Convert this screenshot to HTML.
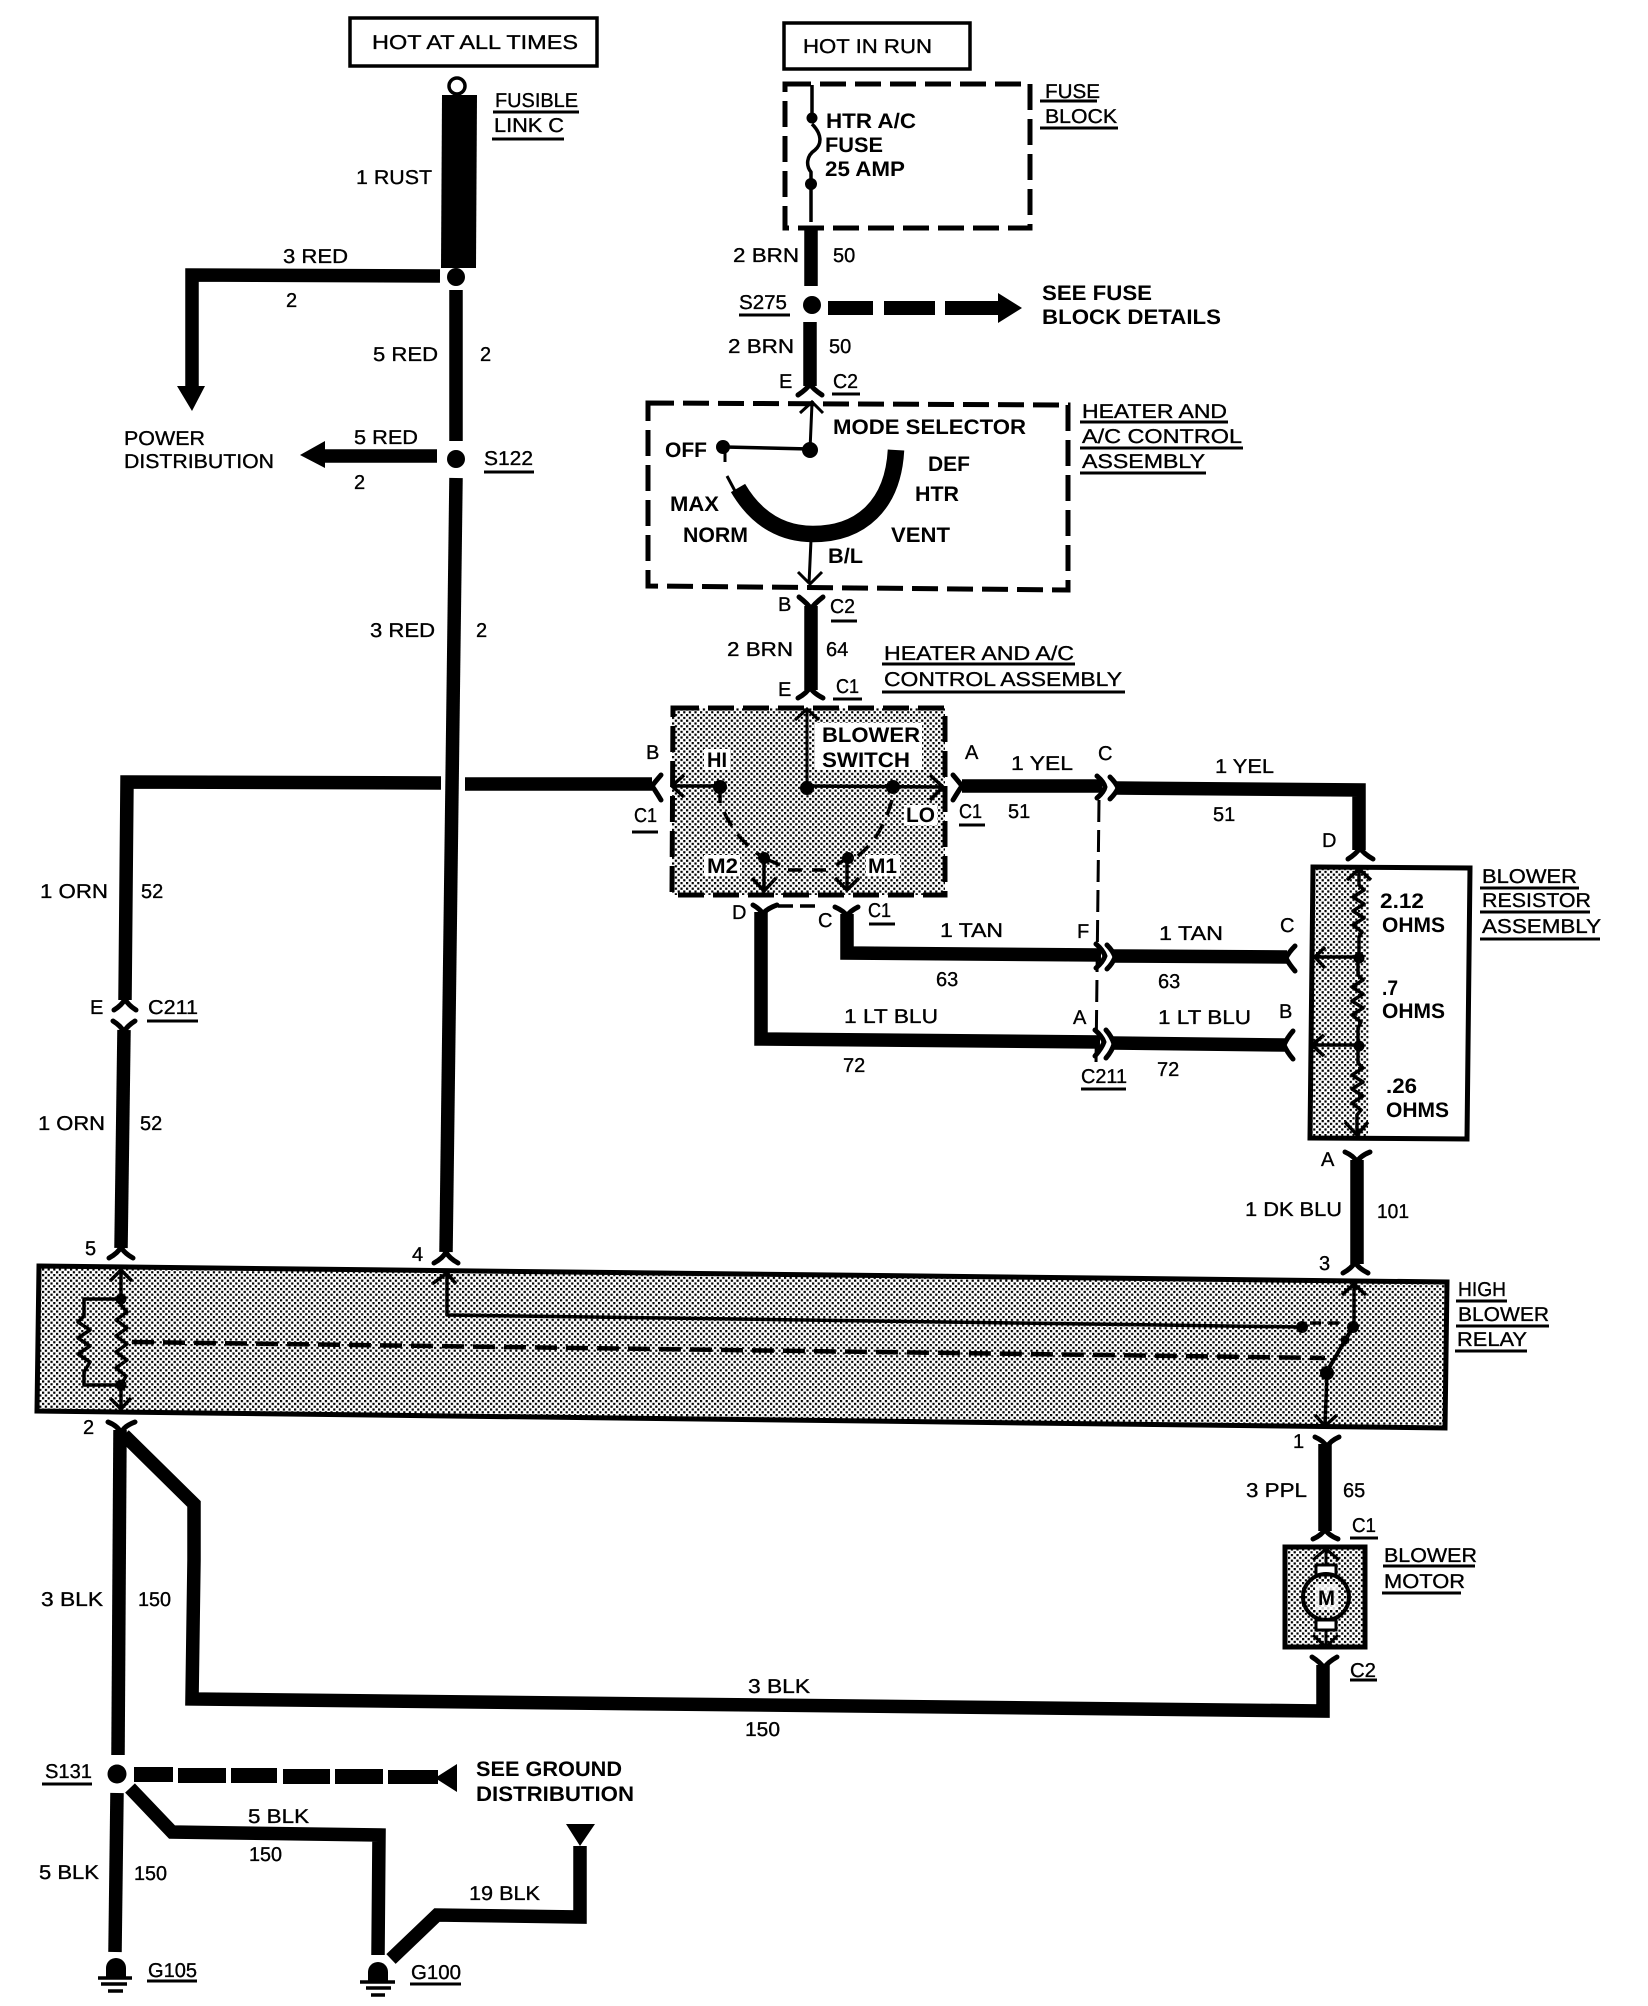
<!DOCTYPE html>
<html lang="en">
<head>
<meta charset="utf-8">
<title>Blower wiring diagram</title>
<style>
html,body{margin:0;padding:0;background:#fff;width:1648px;height:2006px;overflow:hidden}
svg{display:block}
text{font-family:"Liberation Sans",sans-serif;fill:#000;text-rendering:geometricPrecision}
.r{font-size:20px;stroke:#000;stroke-width:.35px}
.b{font-size:21px;font-weight:bold}
.w{fill:none;stroke:#000;stroke-width:13.5;stroke-linejoin:miter}
.f{fill:none;stroke:#000;stroke-width:5;stroke-linecap:round;stroke-linejoin:round}
.t{fill:none;stroke:#000;stroke-width:3.5;stroke-linejoin:round}
.a{fill:none;stroke:#000;stroke-width:3}
.u{fill:none;stroke:#000;stroke-width:3}
.d{fill:none;stroke:#000;stroke-width:5;stroke-dasharray:26 9}
</style>
</head>
<body>
<svg xmlns="http://www.w3.org/2000/svg" width="1648" height="2006" viewBox="0 0 1648 2006">
<defs>
<pattern id="st" width="5.6" height="5.6" patternUnits="userSpaceOnUse">
<rect x="0" y="0" width="2.2" height="2.2" fill="#000"/>
<rect x="2.8" y="2.8" width="2.2" height="2.2" fill="#000"/>
</pattern>
</defs>
<rect width="1648" height="2006" fill="#fff"/>

<!-- top boxes -->
<rect x="350" y="18" width="247" height="48" fill="none" stroke="#000" stroke-width="3.5"/>
<text class="r" x="372" y="49" textLength="206" lengthAdjust="spacingAndGlyphs">HOT AT ALL TIMES</text>
<rect x="784" y="23" width="186" height="46" fill="none" stroke="#000" stroke-width="3.5"/>
<text class="r" x="803" y="53" textLength="129" lengthAdjust="spacingAndGlyphs">HOT IN RUN</text>

<!-- fusible link -->
<circle cx="457" cy="86" r="8" fill="#fff" stroke="#000" stroke-width="3.5"/>
<polygon points="442,95 477,95 476,268 441,268" fill="#000"/>
<circle cx="456" cy="277" r="9" fill="#000"/>
<text class="r" x="356" y="184" textLength="76" lengthAdjust="spacingAndGlyphs">1 RUST</text>
<text class="r" x="495" y="107" textLength="83" lengthAdjust="spacingAndGlyphs">FUSIBLE</text>
<path class="u" d="M493 112H579"/>
<text class="r" x="494" y="132" textLength="70" lengthAdjust="spacingAndGlyphs">LINK C</text>
<path class="u" d="M492 139H564"/>

<!-- 3 red to power distribution -->
<path class="w" d="M440 276L192 275V388"/>
<polygon points="177,386 205,386 192,411" fill="#000"/>
<text class="r" x="283" y="263" textLength="65" lengthAdjust="spacingAndGlyphs">3 RED</text>
<text class="r" x="286" y="307">2</text>
<text class="r" x="124" y="445" textLength="81" lengthAdjust="spacingAndGlyphs">POWER</text>
<text class="r" x="124" y="468" textLength="150" lengthAdjust="spacingAndGlyphs">DISTRIBUTION</text>

<!-- 5 red -->
<path class="w" d="M456 290V441"/>
<circle cx="456" cy="459" r="9" fill="#000"/>
<path class="w" d="M437 456H320"/>
<polygon points="300,455 325,441 325,468" fill="#000"/>
<text class="r" x="373" y="361" textLength="65" lengthAdjust="spacingAndGlyphs">5 RED</text>
<text class="r" x="480" y="361">2</text>
<text class="r" x="354" y="444" textLength="64" lengthAdjust="spacingAndGlyphs">5 RED</text>
<text class="r" x="354" y="489">2</text>
<text class="r" x="484" y="465" textLength="49" lengthAdjust="spacingAndGlyphs">S122</text>
<path class="u" d="M484 472H534"/>

<!-- 3 red main -->
<path class="w" d="M456 478L446 1252"/>
<text class="r" x="370" y="637" textLength="65" lengthAdjust="spacingAndGlyphs">3 RED</text>
<text class="r" x="476" y="637">2</text>

<!-- 1 ORN wire -->
<path class="w" d="M441 783L127 782L125 1000"/>
<path class="w" d="M465 784H652"/>
<path class="w" d="M124 1030L121 1248"/>
<path class="f" d="M114 1010Q122 1005 125 999Q128 1005 136 1010"/>
<path class="f" d="M113 1021Q121 1026 124 1032Q127 1026 135 1021"/>
<text class="r" x="90" y="1014">E</text>
<text class="r" x="148" y="1014" textLength="50" lengthAdjust="spacingAndGlyphs">C211</text>
<path class="u" d="M147 1021H198"/>
<text class="r" x="40" y="898" textLength="68" lengthAdjust="spacingAndGlyphs">1 ORN</text>
<text class="r" x="141" y="898">52</text>
<text class="r" x="38" y="1130" textLength="67" lengthAdjust="spacingAndGlyphs">1 ORN</text>
<text class="r" x="140" y="1130">52</text>

<!-- Fuse block -->
<path class="d" d="M785 84H1030V228H785Z"/>
<path class="t" d="M812 85V118"/>
<circle cx="812" cy="118" r="5.5" fill="#000"/>
<path class="t" d="M812 124C822 134 822 144 815 150C806 156 806 166 811 172V222"/>
<circle cx="811" cy="184" r="6" fill="#000"/>
<text class="b" x="826" y="128" textLength="90" lengthAdjust="spacingAndGlyphs">HTR A/C</text>
<text class="b" x="825" y="152" textLength="58" lengthAdjust="spacingAndGlyphs">FUSE</text>
<text class="b" x="825" y="176" textLength="80" lengthAdjust="spacingAndGlyphs">25 AMP</text>
<text class="r" x="1045" y="98" textLength="55" lengthAdjust="spacingAndGlyphs">FUSE</text>
<path class="u" d="M1040 101H1097"/>
<text class="r" x="1045" y="123" textLength="72" lengthAdjust="spacingAndGlyphs">BLOCK</text>
<path class="u" d="M1040 128H1118"/>

<path class="w" d="M811 226V286"/>
<circle cx="812" cy="305" r="9" fill="#000"/>
<path class="w" d="M810 322V386"/>
<rect x="828" y="301" width="45" height="14" fill="#000"/>
<rect x="884" y="301" width="51" height="14" fill="#000"/>
<rect x="945" y="301" width="54" height="14" fill="#000"/>
<polygon points="998,293 1022,308 998,323" fill="#000"/>
<text class="b" x="1042" y="300" textLength="110" lengthAdjust="spacingAndGlyphs">SEE FUSE</text>
<text class="b" x="1042" y="324" textLength="179" lengthAdjust="spacingAndGlyphs">BLOCK DETAILS</text>
<text class="r" x="733" y="262" textLength="66" lengthAdjust="spacingAndGlyphs">2 BRN</text>
<text class="r" x="833" y="262">50</text>
<text class="r" x="739" y="309" textLength="48" lengthAdjust="spacingAndGlyphs">S275</text>
<path class="u" d="M739 315H790"/>
<text class="r" x="728" y="353" textLength="66" lengthAdjust="spacingAndGlyphs">2 BRN</text>
<text class="r" x="829" y="353">50</text>
<text class="r" x="779" y="388">E</text>
<text class="r" x="833" y="388" textLength="25" lengthAdjust="spacingAndGlyphs">C2</text>
<path class="u" d="M832 394H860"/>
<path class="f" d="M798 395Q807 389 810 384Q813 389 822 395"/>

<!-- Mode selector -->
<path class="d" d="M648 403L1068 405V590L648 586Z"/>
<path class="a" d="M810 450L812 403M800 413L812 402L823 413"/>
<circle cx="810" cy="450" r="8" fill="#000"/>
<path class="t" d="M810 449L725 447"/>
<circle cx="723" cy="447" r="7" fill="#000"/>
<path class="a" d="M725 447V462"/>
<path class="a" d="M727 476L735 491"/>
<path fill="none" stroke="#000" stroke-width="16.5" d="M738 488C758 522 785 534 813 534C861 534 893 505 896 450"/>
<path class="a" d="M811 540L809 584M798 572L810 584L822 572"/>
<text class="b" x="833" y="434" textLength="193" lengthAdjust="spacingAndGlyphs">MODE SELECTOR</text>
<text class="b" x="665" y="457" textLength="42" lengthAdjust="spacingAndGlyphs">OFF</text>
<text class="b" x="928" y="471" textLength="42" lengthAdjust="spacingAndGlyphs">DEF</text>
<text class="b" x="915" y="501" textLength="44" lengthAdjust="spacingAndGlyphs">HTR</text>
<text class="b" x="670" y="511" textLength="49" lengthAdjust="spacingAndGlyphs">MAX</text>
<text class="b" x="683" y="542" textLength="65" lengthAdjust="spacingAndGlyphs">NORM</text>
<text class="b" x="891" y="542" textLength="59" lengthAdjust="spacingAndGlyphs">VENT</text>
<text class="b" x="828" y="563" textLength="35" lengthAdjust="spacingAndGlyphs">B/L</text>
<text class="r" x="1082" y="418" textLength="145" lengthAdjust="spacingAndGlyphs">HEATER AND</text>
<path class="u" d="M1080 422H1228"/>
<text class="r" x="1082" y="443" textLength="160" lengthAdjust="spacingAndGlyphs">A/C CONTROL</text>
<path class="u" d="M1080 448H1243"/>
<text class="r" x="1082" y="468" textLength="123" lengthAdjust="spacingAndGlyphs">ASSEMBLY</text>
<path class="u" d="M1080 473H1206"/>

<!-- 2 BRN 64 -->
<path class="f" d="M799 597Q808 604 811 609Q814 604 823 597"/>
<path class="w" d="M811 606V690"/>
<path class="f" d="M798 698Q807 693 810 687Q813 693 823 698"/>
<text class="r" x="778" y="611">B</text>
<text class="r" x="830" y="613" textLength="25" lengthAdjust="spacingAndGlyphs">C2</text>
<path class="u" d="M831 621H857"/>
<text class="r" x="727" y="656" textLength="66" lengthAdjust="spacingAndGlyphs">2 BRN</text>
<text class="r" x="826" y="656">64</text>
<text class="r" x="884" y="660" textLength="190" lengthAdjust="spacingAndGlyphs">HEATER AND A/C</text>
<path class="u" d="M882 664H1075"/>
<text class="r" x="884" y="686" textLength="238" lengthAdjust="spacingAndGlyphs">CONTROL ASSEMBLY</text>
<path class="u" d="M882 692H1125"/>
<text class="r" x="778" y="696">E</text>
<text class="r" x="836" y="693" textLength="23" lengthAdjust="spacingAndGlyphs">C1</text>
<path class="u" d="M833 699H862"/>

<!-- Blower switch -->
<rect x="672" y="708" width="273" height="187" fill="url(#st)"/>
<rect x="815" y="723" width="107" height="47" fill="#fff"/>
<rect x="704" y="749" width="26" height="21" fill="#fff"/>
<rect x="904" y="805" width="33" height="20" fill="#fff"/>
<rect x="704" y="855" width="36" height="21" fill="#fff"/>
<rect x="866" y="855" width="34" height="21" fill="#fff"/>
<path class="d" d="M673 708H945V895H672Z"/>
<path class="a" d="M807 710V788M795 720L807 709L819 720"/>
<circle cx="807" cy="788" r="7" fill="#000"/>
<path class="t" d="M807 786L943 787M930 775L943 787L930 800"/>
<circle cx="893" cy="787" r="7" fill="#000"/>
<path class="t" d="M672 786H720M684 775L672 786L684 797"/>
<circle cx="720" cy="787" r="7" fill="#000"/>
<path class="t" d="M720 787V803"/>
<path fill="none" stroke="#000" stroke-width="3.5" stroke-dasharray="16 10" d="M724 812C735 835 750 850 770 862"/>
<path fill="none" stroke="#000" stroke-width="3.5" stroke-dasharray="16 10" d="M892 800C885 825 875 842 858 856"/>
<circle cx="764" cy="858" r="6" fill="#000"/>
<path class="t" d="M764 858L780 865"/>
<circle cx="848" cy="858" r="6" fill="#000"/>
<path class="t" d="M848 858L836 865"/>
<path class="t" d="M788 870H802M812 870H826"/>
<path class="t" d="M764 858V892M752 878L764 891L776 878"/>
<path class="t" d="M847 858V890M835 878L847 890L859 878"/>
<path class="t" d="M778 906H793M800 906H815"/>
<text class="b" x="822" y="742" textLength="98" lengthAdjust="spacingAndGlyphs">BLOWER</text>
<text class="b" x="822" y="767" textLength="88" lengthAdjust="spacingAndGlyphs">SWITCH</text>
<text class="b" x="707" y="767" textLength="20" lengthAdjust="spacingAndGlyphs">HI</text>
<text class="b" x="906" y="822" textLength="29" lengthAdjust="spacingAndGlyphs">LO</text>
<text class="b" x="707" y="873" textLength="31" lengthAdjust="spacingAndGlyphs">M2</text>
<text class="b" x="868" y="873" textLength="29" lengthAdjust="spacingAndGlyphs">M1</text>
<text class="r" x="646" y="759">B</text>
<text class="r" x="634" y="822" textLength="23" lengthAdjust="spacingAndGlyphs">C1</text>
<path class="u" d="M632 832H658"/>
<text class="r" x="965" y="759">A</text>
<text class="r" x="959" y="818" textLength="23" lengthAdjust="spacingAndGlyphs">C1</text>
<path class="u" d="M959 825H985"/>
<text class="r" x="732" y="919">D</text>
<text class="r" x="818" y="927">C</text>
<text class="r" x="868" y="917" textLength="23" lengthAdjust="spacingAndGlyphs">C1</text>
<path class="u" d="M869 924H895"/>
<path class="f" d="M661 775Q655 782 652 786Q655 790 661 800"/>
<path class="f" d="M953 775Q959 782 962 786Q959 790 953 800"/>

<!-- 1 YEL -->
<path class="w" d="M962 786H1102"/>
<path class="f" d="M1097 776Q1104 782 1105 787Q1104 792 1097 798"/>
<path class="f" d="M1110 777Q1116 783 1118 788Q1116 793 1110 799"/>
<path class="w" d="M1116 788L1359 790V850"/>
<path class="f" d="M1348 859Q1356 854 1360 848Q1364 854 1373 859"/>
<text class="r" x="1011" y="770" textLength="62" lengthAdjust="spacingAndGlyphs">1 YEL</text>
<text class="r" x="1008" y="818">51</text>
<text class="r" x="1098" y="760">C</text>
<text class="r" x="1215" y="773" textLength="59" lengthAdjust="spacingAndGlyphs">1 YEL</text>
<text class="r" x="1213" y="821">51</text>
<text class="r" x="1322" y="847">D</text>

<!-- C211 dashed -->
<path fill="none" stroke="#000" stroke-width="3" stroke-dasharray="22 8" d="M1099 800L1096 1064"/>

<!-- 1 TAN -->
<path class="f" d="M835 907Q844 911 847 916Q850 911 858 907"/>
<path class="w" d="M847 914V953L1101 955"/>
<path class="f" d="M1096 944Q1103 950 1105 956Q1103 962 1096 968"/>
<path class="f" d="M1107 945Q1113 951 1115 957Q1113 963 1107 969"/>
<path class="w" d="M1113 956L1287 957"/>
<path class="f" d="M1295 946Q1289 952 1286 958Q1289 964 1295 971"/>
<text class="r" x="940" y="937" textLength="63" lengthAdjust="spacingAndGlyphs">1 TAN</text>
<text class="r" x="936" y="986">63</text>
<text class="r" x="1077" y="938">F</text>
<text class="r" x="1159" y="940" textLength="64" lengthAdjust="spacingAndGlyphs">1 TAN</text>
<text class="r" x="1158" y="988">63</text>
<text class="r" x="1280" y="932">C</text>

<!-- 1 LT BLU -->
<path class="f" d="M753 905Q760 909 763 914Q766 909 777 905"/>
<path class="w" d="M761 912V1039L1100 1042"/>
<path class="f" d="M1095 1030Q1102 1036 1104 1042Q1102 1048 1095 1056"/>
<path class="f" d="M1106 1030Q1112 1037 1114 1044Q1112 1051 1106 1058"/>
<path class="w" d="M1112 1043L1285 1045"/>
<path class="f" d="M1293 1031Q1287 1038 1284 1045Q1287 1052 1293 1059"/>
<text class="r" x="844" y="1023" textLength="94" lengthAdjust="spacingAndGlyphs">1 LT BLU</text>
<text class="r" x="843" y="1072">72</text>
<text class="r" x="1073" y="1024">A</text>
<text class="r" x="1158" y="1024" textLength="93" lengthAdjust="spacingAndGlyphs">1 LT BLU</text>
<text class="r" x="1157" y="1076">72</text>
<text class="r" x="1279" y="1018">B</text>
<text class="r" x="1081" y="1083" textLength="46" lengthAdjust="spacingAndGlyphs">C211</text>
<path class="u" d="M1081 1089H1126"/>

<!-- Resistor assembly -->
<polygon points="1313,868 1369,868 1368,1137 1310,1137" fill="url(#st)"/>
<polygon points="1313,867 1470,868 1467,1139 1310,1138" fill="none" stroke="#000" stroke-width="5"/>
<path class="t" d="M1359 870V885L1364 890L1353 897L1364 904L1353 911L1364 918L1353 925L1362 932L1359 937V958M1347 880L1359 869L1371 880"/>
<circle cx="1359" cy="958" r="5.5" fill="#000"/>
<path class="t" d="M1359 957H1315M1325 947L1315 957L1325 968"/>
<path class="t" d="M1358 958V975L1363 980L1352 987L1363 994L1352 1001L1363 1008L1352 1015L1361 1022L1358 1028V1046"/>
<circle cx="1359" cy="1046" r="5.5" fill="#000"/>
<path class="t" d="M1359 1045H1312M1324 1035L1312 1045L1324 1056"/>
<path class="t" d="M1358 1046V1063L1363 1068L1352 1075L1363 1082L1352 1089L1363 1096L1352 1103L1361 1110L1357 1115V1135M1345 1122L1357 1135L1368 1122"/>
<text class="b" x="1380" y="908" textLength="44" lengthAdjust="spacingAndGlyphs">2.12</text>
<text class="b" x="1382" y="932" textLength="63" lengthAdjust="spacingAndGlyphs">OHMS</text>
<text class="b" x="1382" y="995" textLength="16" lengthAdjust="spacingAndGlyphs">.7</text>
<text class="b" x="1382" y="1018" textLength="63" lengthAdjust="spacingAndGlyphs">OHMS</text>
<text class="b" x="1386" y="1093" textLength="31" lengthAdjust="spacingAndGlyphs">.26</text>
<text class="b" x="1386" y="1117" textLength="63" lengthAdjust="spacingAndGlyphs">OHMS</text>
<text class="r" x="1482" y="883" textLength="95" lengthAdjust="spacingAndGlyphs">BLOWER</text>
<path class="u" d="M1480 888H1579"/>
<text class="r" x="1482" y="907" textLength="109" lengthAdjust="spacingAndGlyphs">RESISTOR</text>
<path class="u" d="M1480 912H1590"/>
<text class="r" x="1482" y="933" textLength="119" lengthAdjust="spacingAndGlyphs">ASSEMBLY</text>
<path class="u" d="M1480 939H1600"/>

<!-- 1 DK BLU -->
<path class="f" d="M1345 1152Q1354 1156 1357 1162Q1360 1156 1370 1152"/>
<path class="w" d="M1357 1160V1264"/>
<text class="r" x="1321" y="1166">A</text>
<text class="r" x="1245" y="1216" textLength="97" lengthAdjust="spacingAndGlyphs">1 DK BLU</text>
<text class="r" x="1381" y="1222" textLength="32" lengthAdjust="spacingAndGlyphs" dx="-4" dy="-4">101</text>

<!-- High blower relay -->
<polygon points="39,1266 1447,1282 1445,1428 37,1411" fill="url(#st)" stroke="#000" stroke-width="5"/>
<path class="f" d="M109 1258Q118 1253 121 1247Q124 1253 133 1258"/>
<path class="f" d="M434 1263Q443 1258 446 1252Q449 1258 458 1263"/>
<path class="f" d="M1343 1273Q1352 1268 1355 1262Q1358 1268 1368 1273"/>
<text class="r" x="85" y="1255">5</text>
<text class="r" x="412" y="1261">4</text>
<text class="r" x="1319" y="1270">3</text>
<path class="t" d="M121 1271V1299M110 1281L121 1270L132 1281"/>
<circle cx="121" cy="1299" r="5.5" fill="#000"/>
<path class="t" d="M121 1299V1305L127 1312L116 1320L127 1328L116 1336L127 1344L116 1352L127 1360L116 1368L126 1376L121 1385"/>
<circle cx="121" cy="1385" r="5.5" fill="#000"/>
<path class="t" d="M121 1385V1408M110 1398L121 1409L131 1398"/>
<path class="t" d="M121 1299H84V1316L78 1322L90 1330L78 1338L90 1346L78 1354L90 1362L84 1372V1385H121"/>
<path fill="none" stroke="#000" stroke-width="4.5" stroke-dasharray="22 9" d="M132 1342L1325 1358"/>
<path class="t" d="M447 1274V1315L1302 1327M432 1284L447 1273L456 1284"/>
<circle cx="1302" cy="1327" r="6" fill="#000"/>
<path fill="none" stroke="#000" stroke-width="3.5" stroke-dasharray="11 7" d="M1310 1323H1345"/>
<circle cx="1353" cy="1327" r="6" fill="#000"/>
<path class="t" d="M1354 1327V1285M1342 1295L1354 1284L1366 1295"/>
<path fill="none" stroke="#000" stroke-width="4" d="M1353 1327L1326 1373"/>
<circle cx="1345" cy="1340" r="4.5" fill="#000"/>
<circle cx="1327" cy="1373" r="7" fill="#000"/>
<path class="t" d="M1327 1373L1325 1425M1315 1415L1325 1426L1337 1415"/>
<text class="r" x="1458" y="1296" textLength="48" lengthAdjust="spacingAndGlyphs">HIGH</text>
<path class="u" d="M1456 1301H1507"/>
<text class="r" x="1458" y="1321" textLength="91" lengthAdjust="spacingAndGlyphs">BLOWER</text>
<path class="u" d="M1456 1326H1549"/>
<text class="r" x="1457" y="1346" textLength="70" lengthAdjust="spacingAndGlyphs">RELAY</text>
<path class="u" d="M1455 1351H1527"/>

<!-- 3 PPL -->
<path class="f" d="M1315 1437Q1324 1441 1327 1447Q1330 1441 1339 1437"/>
<path class="w" d="M1325 1444V1531"/>
<path class="f" d="M1313 1539Q1322 1535 1325 1529Q1328 1535 1338 1539"/>
<text class="r" x="1293" y="1448">1</text>
<text class="r" x="1246" y="1497" textLength="61" lengthAdjust="spacingAndGlyphs">3 PPL</text>
<text class="r" x="1343" y="1497">65</text>
<text class="r" x="1352" y="1532" textLength="24" lengthAdjust="spacingAndGlyphs">C1</text>
<path class="u" d="M1350 1538H1378"/>

<!-- Motor -->
<rect x="1285" y="1547" width="80" height="100" fill="url(#st)" stroke="#000" stroke-width="5"/>
<path class="a" d="M1326 1550V1566M1313 1560L1326 1549L1339 1560"/>
<rect x="1316" y="1565" width="20" height="10" fill="#fff" stroke="#000" stroke-width="3"/>
<circle cx="1326" cy="1597" r="23" fill="url(#st)" stroke="#000" stroke-width="4"/>
<rect x="1316" y="1620" width="20" height="10" fill="#fff" stroke="#000" stroke-width="3"/>
<rect x="1315" y="1584" width="23" height="26" fill="#fff" opacity=".8"/>
<path class="a" d="M1326 1630V1647M1313 1635L1326 1647L1338 1635"/>
<text class="b" x="1318" y="1605" textLength="17" lengthAdjust="spacingAndGlyphs">M</text>
<text class="r" x="1384" y="1562" textLength="93" lengthAdjust="spacingAndGlyphs">BLOWER</text>
<path class="u" d="M1383 1566H1475"/>
<text class="r" x="1384" y="1588" textLength="81" lengthAdjust="spacingAndGlyphs">MOTOR</text>
<path class="u" d="M1382 1593H1461"/>
<path class="f" d="M1312 1657Q1320 1662 1324 1668Q1328 1662 1337 1657"/>
<text class="r" x="1350" y="1677" textLength="26" lengthAdjust="spacingAndGlyphs">C2</text>
<path class="u" d="M1350 1680H1377"/>

<!-- 3 BLK -->
<path class="f" d="M108 1422Q118 1426 121 1433Q124 1426 135 1422"/>
<path class="w" d="M120 1430L118 1755"/>
<path class="w" d="M124 1435L194 1504V1560L192 1699L1323 1711V1665"/>
<text class="r" x="83" y="1434">2</text>
<text class="r" x="41" y="1606" textLength="62" lengthAdjust="spacingAndGlyphs">3 BLK</text>
<text class="r" x="138" y="1606" textLength="33" lengthAdjust="spacingAndGlyphs">150</text>
<text class="r" x="748" y="1693" textLength="62" lengthAdjust="spacingAndGlyphs">3 BLK</text>
<text class="r" x="745" y="1736" textLength="35" lengthAdjust="spacingAndGlyphs">150</text>

<!-- S131 -->
<circle cx="117" cy="1774" r="9.5" fill="#000"/>
<text class="r" x="45" y="1778" textLength="47" lengthAdjust="spacingAndGlyphs">S131</text>
<path class="u" d="M42 1784H92"/>
<rect x="134" y="1767" width="39" height="15" fill="#000"/>
<rect x="178" y="1768" width="48" height="15" fill="#000"/>
<rect x="231" y="1768" width="46" height="15" fill="#000"/>
<rect x="283" y="1769" width="47" height="15" fill="#000"/>
<rect x="335" y="1769" width="48" height="15" fill="#000"/>
<rect x="388" y="1770" width="50" height="14" fill="#000"/>
<polygon points="435,1778 457,1764 457,1792" fill="#000"/>
<text class="b" x="476" y="1776" textLength="146" lengthAdjust="spacingAndGlyphs">SEE GROUND</text>
<text class="b" x="476" y="1801" textLength="158" lengthAdjust="spacingAndGlyphs">DISTRIBUTION</text>

<path class="w" d="M117 1793L115 1952"/>
<path class="w" d="M130 1788L172 1832L379 1835L378 1955"/>
<text class="r" x="248" y="1823" textLength="61" lengthAdjust="spacingAndGlyphs">5 BLK</text>
<text class="r" x="249" y="1861" textLength="33" lengthAdjust="spacingAndGlyphs">150</text>
<text class="r" x="39" y="1879" textLength="60" lengthAdjust="spacingAndGlyphs">5 BLK</text>
<text class="r" x="134" y="1880" textLength="33" lengthAdjust="spacingAndGlyphs">150</text>

<!-- G105 -->
<path d="M106 1978V1968A10 10 0 0 1 126 1968V1978Z" fill="#000"/>
<path d="M98 1978H132M101 1984H127M108 1991H123" fill="none" stroke="#000" stroke-width="3.5"/>
<text class="r" x="148" y="1977" textLength="49" lengthAdjust="spacingAndGlyphs">G105</text>
<path class="u" d="M147 1981H197"/>

<!-- G100 / 19 BLK -->
<path d="M368 1982V1972A10 10 0 0 1 388 1972V1982Z" fill="#000"/>
<path d="M360 1982H395M366 1988H391M371 1995H385" fill="none" stroke="#000" stroke-width="3.5"/>
<text class="r" x="411" y="1979" textLength="50" lengthAdjust="spacingAndGlyphs">G100</text>
<path class="u" d="M410 1984H461"/>
<path class="w" d="M391 1959L437 1915L580 1917V1846"/>
<polygon points="566,1824 595,1824 580,1846" fill="#000"/>
<text class="r" x="469" y="1900" textLength="71" lengthAdjust="spacingAndGlyphs">19 BLK</text>
</svg>
</body>
</html>
